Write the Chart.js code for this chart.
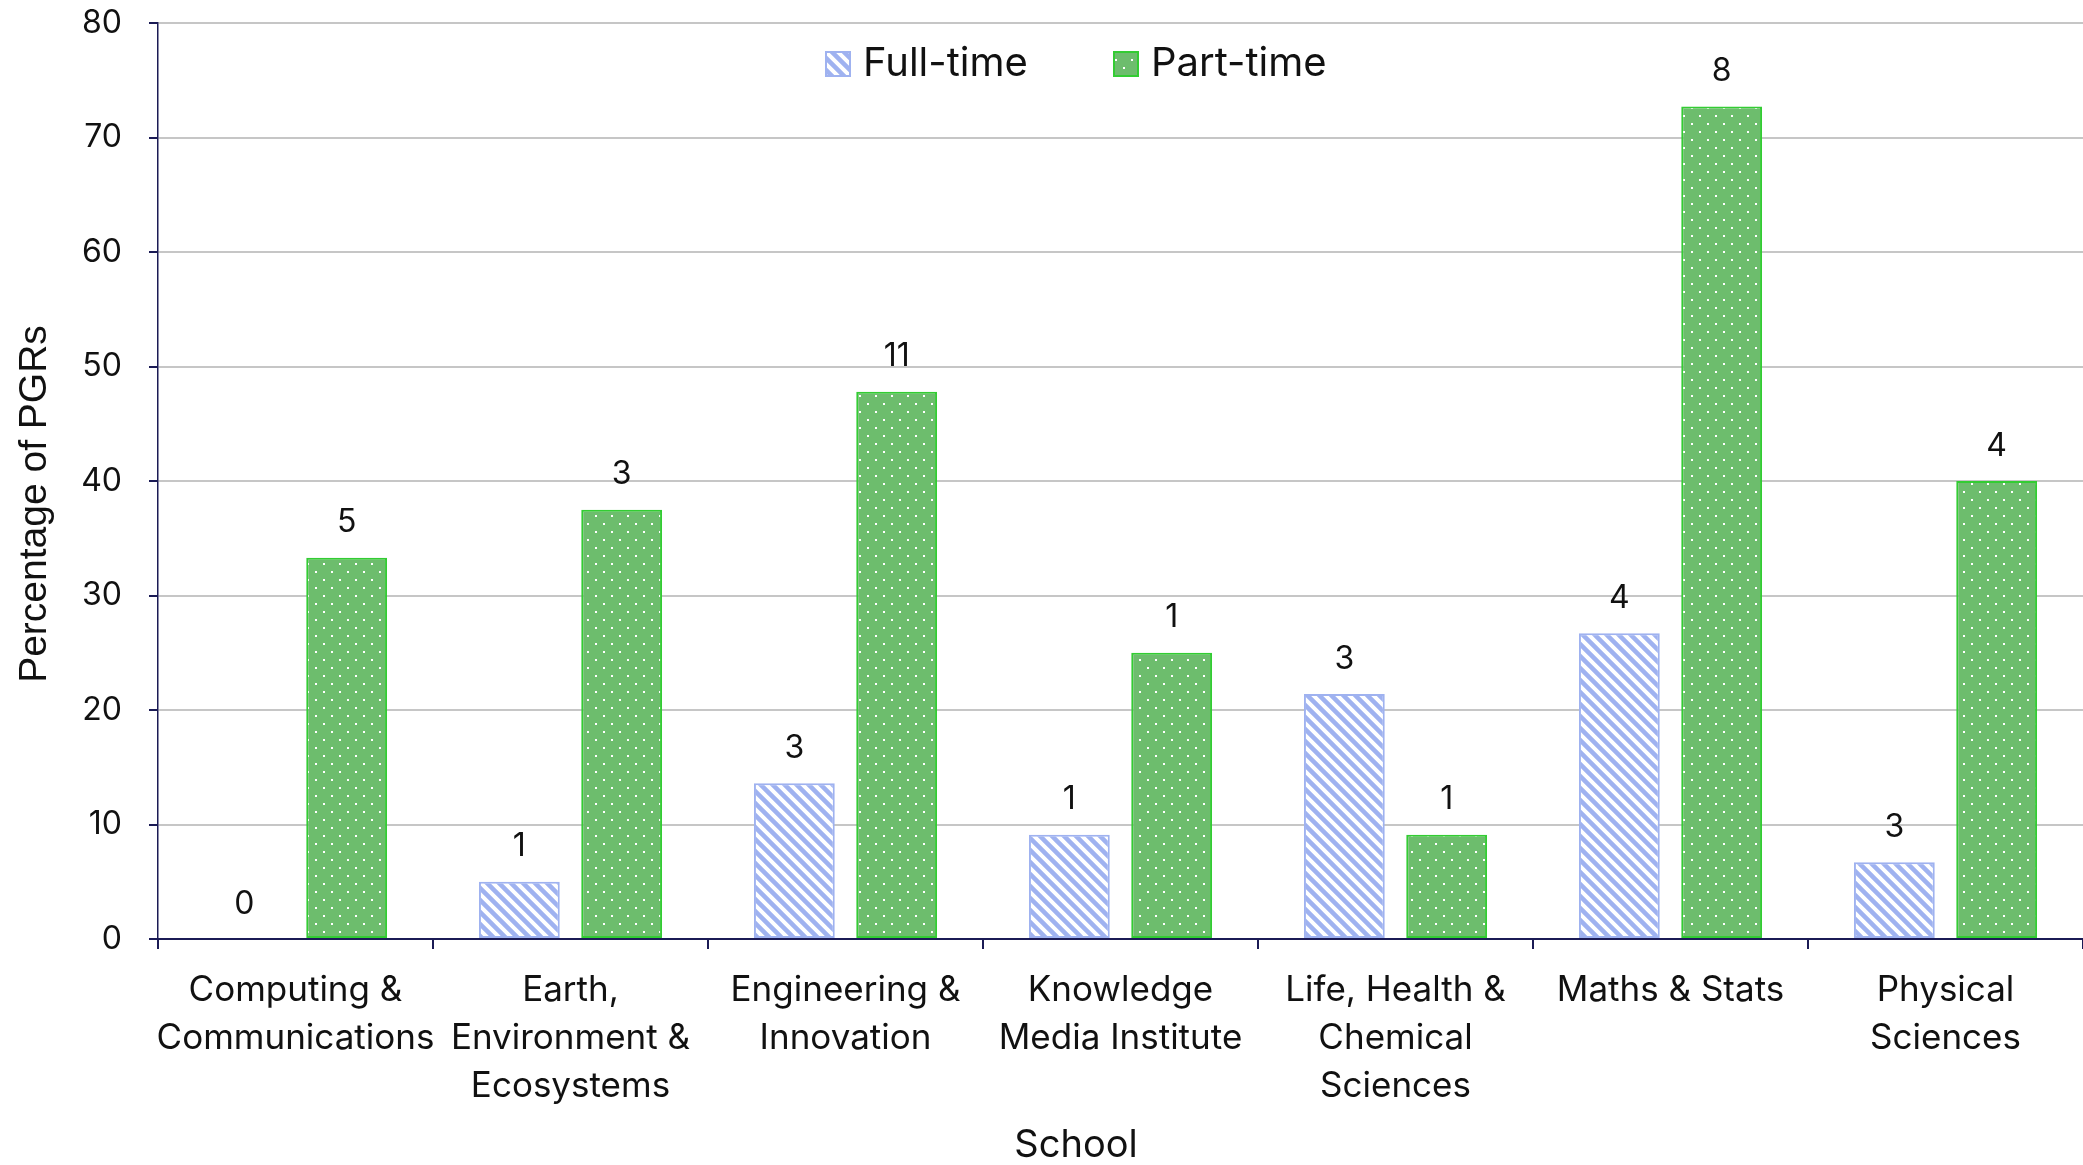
<!DOCTYPE html>
<html>
<head>
<meta charset="utf-8">
<script src="https://cdn.jsdelivr.net/npm/chart.js@4.4.0/dist/chart.umd.min.js"></script>
<style>
  html, body { margin: 0; padding: 0; background: #fff; }
  canvas { display: block; }
</style>
</head>
<body>
<canvas id="pgrChart" width="2083" height="1165"></canvas>
<script>
// schools and percentages
const schools = [
    ['Computing &', 'Communications'],
    ['Earth,', 'Environment &', 'Ecosystems'],
    ['Engineering &', 'Innovation'],
    ['Knowledge', 'Media Institute'],
    ['Life, Health &', 'Chemical', 'Sciences'],
    ['Maths & Stats'],
    ['Physical', 'Sciences']
];
const fullTimePct = [0, 5, 13.6, 9.1, 21.4, 26.7, 6.7];
const partTimePct = [33.3, 37.5, 47.8, 25, 9.1, 72.7, 40];
// counts printed above the bars
const fullTimeCount = [0, 1, 3, 1, 3, 4, 3];
const partTimeCount = [5, 3, 11, 1, 1, 8, 4];
const yTicks = [0, 10, 20, 30, 40, 50, 60, 70, 80];

const mainFont = 'Inter, "Noto Sans", sans-serif';
const navy = '#1b1b55';
const blue = '#9fb2f0';
const green = '#6dbd6d';
const greenEdge = '#33cc33';

function stripePattern() {
    const c = document.createElement('canvas');
    c.width = 12; c.height = 12;
    const g = c.getContext('2d');
    g.fillStyle = '#fff';
    g.fillRect(0, 0, 12, 12);
    g.strokeStyle = blue;
    g.lineWidth = 4.5;
    g.beginPath();
    g.moveTo(-6, -6); g.lineTo(18, 18);
    g.moveTo(-6, 6); g.lineTo(6, 18);
    g.moveTo(6, -6); g.lineTo(18, 6);
    g.stroke();
    return g.createPattern(c, 'repeat');
}

function dotPattern() {
    const c = document.createElement('canvas');
    c.width = 16; c.height = 16;
    const g = c.getContext('2d');
    g.fillStyle = green;
    g.fillRect(0, 0, 16, 16);
    g.fillStyle = '#fff';
    g.fillRect(3, 3, 2, 2);
    g.fillRect(11, 11, 2, 2);
    return g.createPattern(c, 'repeat');
}

const stripes = stripePattern();
const dots = dotPattern();

// counts above bars, legend, axis titles
const extras = {
    id: 'extras',
    afterDatasetsDraw(chart) {
        const ctx = chart.ctx;
        const counts = [fullTimeCount, partTimeCount];
        ctx.save();
        ctx.fillStyle = '#111';
        ctx.font = '32px ' + mainFont;
        ctx.textAlign = 'center';
        ctx.textBaseline = 'middle';
        chart.data.datasets.forEach((ds, i) => {
            chart.getDatasetMeta(i).data.forEach((bar, j) => {
                ctx.fillText(String(counts[i][j]), bar.x, bar.y - 35);
            });
        });

        // legend
        const items = [
            { label: 'Full-time', fill: stripes, edge: blue, x: 826 },
            { label: 'Part-time', fill: dots, edge: greenEdge, x: 1114 }
        ];
        ctx.font = '40px ' + mainFont;
        ctx.textAlign = 'left';
        items.forEach(it => {
            ctx.fillStyle = it.fill;
            ctx.fillRect(it.x, 52, 24, 24);
            ctx.strokeStyle = it.edge;
            ctx.lineWidth = 2;
            ctx.strokeRect(it.x, 52, 24, 24);
            ctx.fillStyle = '#111';
            ctx.fillText(it.label, it.x + 37, 64);
        });

        ctx.font = '38px ' + mainFont;
        ctx.textAlign = 'center';
        ctx.fillText('School', 1076, 1146);

        ctx.translate(35, 504);
        ctx.rotate(-Math.PI / 2);
        ctx.font = '39px "Liberation Sans", Arial, sans-serif';
        ctx.fillText('Percentage of PGRs', 0, 0);
        ctx.restore();
    }
};

new Chart(document.getElementById('pgrChart').getContext('2d'), {
    type: 'bar',
    data: {
        labels: schools,
        datasets: [{
            label: 'Full-time',
            data: fullTimePct,
            backgroundColor: stripes,
            borderColor: blue,
            borderWidth: 2,
            borderSkipped: false
        }, {
            label: 'Part-time',
            data: partTimePct,
            backgroundColor: dots,
            borderColor: greenEdge,
            borderWidth: 2,
            borderSkipped: false
        }]
    },
    options: {
        responsive: false,
        animation: false,
        devicePixelRatio: 1,
        categoryPercentage: 0.744,
        barPercentage: 0.79,
        layout: { padding: { left: 58, top: 23, right: 0, bottom: 0 } },
        plugins: {
            legend: { display: false },
            tooltip: { enabled: false }
        },
        scales: {
            x: {
                afterFit(scale) { scale.height = 226; },
                border: { color: navy, width: 2 },
                grid: {
                    offset: true,
                    drawOnChartArea: false,
                    drawTicks: true,
                    tickLength: 10,
                    tickColor: navy,
                    lineWidth: 2
                },
                ticks: {
                    color: '#111',
                    font: { family: mainFont, size: 35, lineHeight: 1.38 },
                    padding: 17,
                    maxRotation: 0,
                    autoSkip: false
                }
            },
            y: {
                min: 0,
                max: 80,
                afterFit(scale) {
                    scale.width = 100;
                    scale.paddingTop = 0;
                    scale.paddingBottom = 0;
                },
                afterBuildTicks(scale) { scale.ticks = yTicks.map(v => ({ value: v })); },
                border: { color: navy, width: 1.5 },
                grid: {
                    color: '#c6c6c6',
                    lineWidth: 2,
                    tickColor: navy,
                    tickLength: 9
                },
                ticks: {
                    color: '#111',
                    font: { family: mainFont, size: 32 },
                    padding: 27
                }
            }
        }
    },
    plugins: [extras]
});
</script>
</body>
</html>
